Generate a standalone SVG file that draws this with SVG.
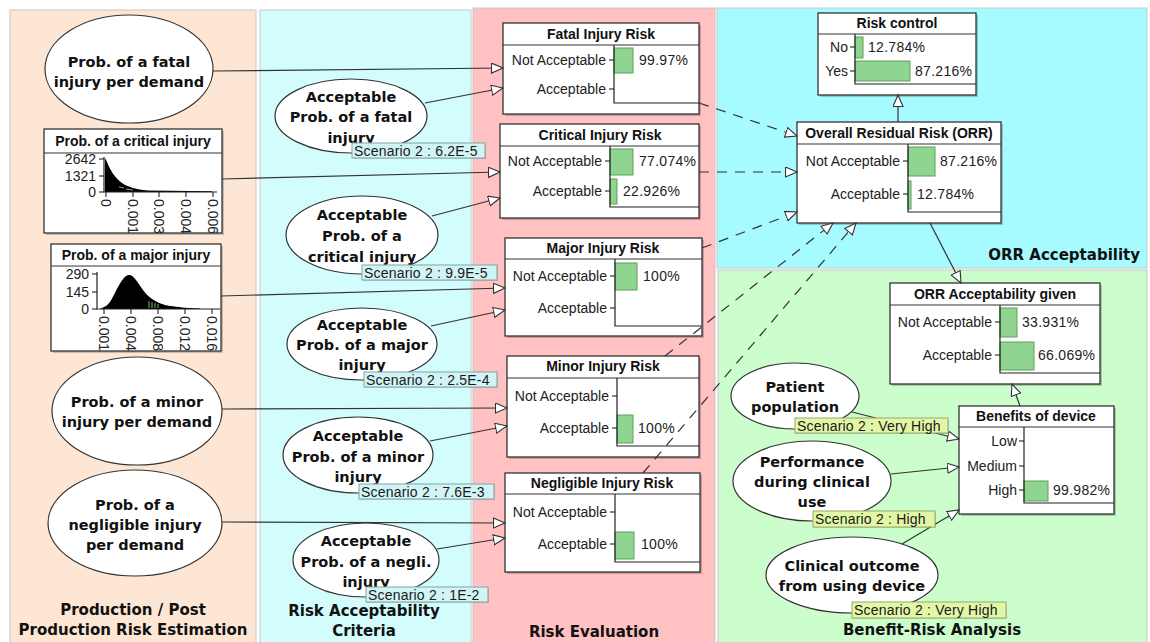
<svg xmlns="http://www.w3.org/2000/svg" width="1150" height="642" viewBox="0 0 1150 642">
<defs>
<style>
.panel{stroke:#c8c8c8;stroke-width:1}
.box{fill:#fff;stroke:#333;stroke-width:1.3}
.shadow{fill:#000;opacity:.2}
.sep{stroke:#333;stroke-width:1.2}
.axis{fill:none;stroke:#222;stroke-width:1.2}
.tick{stroke:#222;stroke-width:1.1}
.bar{fill:#8fd58f;stroke:#5f9f5f;stroke-width:1}
.ttl{font-family:"Liberation Sans",Arial,sans-serif;font-weight:bold;font-size:14px;text-anchor:middle;dominant-baseline:central;fill:#111}
.row{font-family:"Liberation Sans",Arial,sans-serif;font-size:14px;text-anchor:end;dominant-baseline:central;fill:#222}
.pct{font-family:"Liberation Sans",Arial,sans-serif;font-size:14px;dominant-baseline:central;fill:#222;letter-spacing:.3px}
.ax{font-family:"Liberation Sans",Arial,sans-serif;font-size:14px;dominant-baseline:central;fill:#222}
.ell{fill:#fff;stroke:#333;stroke-width:1.2}
.et{font-family:"DejaVu Sans",Verdana,sans-serif;font-weight:bold;font-size:14.5px;text-anchor:middle;dominant-baseline:central;fill:#111}
.plab{font-family:"DejaVu Sans",Verdana,sans-serif;font-weight:bold;font-size:15px;text-anchor:middle;dominant-baseline:central;fill:#111}
.edge{fill:none;stroke:#333;stroke-width:1.2;marker-end:url(#tri)}
.dash{stroke-dasharray:10 8}
.lc{fill:#d2f4f4;stroke:#7fa5a5;stroke-width:1}
.lg{fill:#e2f7a6;stroke:#98a86c;stroke-width:1}
.lsh{fill:#000;opacity:.15}
.lt{font-family:"Liberation Sans",Arial,sans-serif;font-size:14px;dominant-baseline:central;fill:#1a1a1a;letter-spacing:.2px}
</style>
<marker id="tri" markerWidth="14" markerHeight="12" refX="12" refY="5.5" orient="auto" markerUnits="userSpaceOnUse">
<path d="M0.5,0.5 L12,5.5 L0.5,10.5 Z" fill="#fff" stroke="#333" stroke-width="1.1"/>
</marker>
<clipPath id="clipCrit"><rect x="44" y="153" width="178" height="80"/></clipPath>
<clipPath id="clipMaj"><rect x="51" y="266" width="170" height="85"/></clipPath>
</defs>

<rect width="1150" height="642" fill="#fff"/>

<!-- background panels -->
<g id="panels">
<rect class="panel" x="10" y="10" width="246" height="640" fill="#fde7d4"/>
<rect class="panel" x="260" y="10" width="211" height="640" fill="#d3fcfc"/>
<rect class="panel" x="473" y="8" width="242" height="640" fill="#ffc1c1"/>
<rect class="panel" x="717" y="8" width="430" height="260" fill="#a5fbff"/>
<rect class="panel" x="718" y="270" width="429" height="380" fill="#ccfdcc"/>
<text class="plab" x="133" y="610">Production / Post</text>
<text class="plab" x="133" y="630">Production Risk Estimation</text>
<text class="plab" x="364" y="611">Risk Acceptability</text>
<text class="plab" x="364" y="631">Criteria</text>
<text class="plab" x="594" y="632">Risk Evaluation</text>
<text class="plab" x="1140" y="255" style="text-anchor:end">ORR Acceptability</text>
<text class="plab" x="932" y="630">Benefit-Risk Analysis</text>
</g>

<!-- probability estimates -->
<g id="prob-fatal">
<ellipse class="ell" cx="129" cy="69" rx="84" ry="54"/>
<text class="et" x="129" y="62">Prob. of a fatal</text>
<text class="et" x="129" y="82">injury per demand</text>
</g>

<g id="prob-critical">
<rect class="shadow" x="46" y="131" width="178" height="104"/>
<rect class="box" x="44" y="129" width="178" height="104"/>
<line class="sep" x1="44" y1="153" x2="222" y2="153"/>
<text class="ttl" x="133" y="141">Prob. of a critical injury</text>
<g clip-path="url(#clipCrit)">
<path d="M105,192 L105,158 L107,162 C110,170 115,178 122,183 C128,187 136,189.5 148,190.6 L212,191.2 L212,192 Z" fill="#000"/>
<path d="M119,187 L124,188 M126,189 L133,190" stroke="#6bbf6b" stroke-width="1" fill="none"/>
<polyline class="axis" points="104,157 104,192 217,192"/>
<line class="tick" x1="99" y1="159" x2="104" y2="159"/>
<line class="tick" x1="99" y1="176" x2="104" y2="176"/>
<line class="tick" x1="99" y1="192" x2="104" y2="192"/>
<text class="ax" x="96" y="159" text-anchor="end">2642</text>
<text class="ax" x="96" y="176" text-anchor="end">1321</text>
<text class="ax" x="96" y="192" text-anchor="end">0</text>
<line class="tick" x1="106" y1="192" x2="106" y2="197"/>
<line class="tick" x1="133" y1="192" x2="133" y2="197"/>
<line class="tick" x1="159" y1="192" x2="159" y2="197"/>
<line class="tick" x1="186" y1="192" x2="186" y2="197"/>
<line class="tick" x1="213" y1="192" x2="213" y2="197"/>
<text class="ax" transform="translate(106,199) rotate(90)">0</text>
<text class="ax" transform="translate(133,199) rotate(90)">0.001</text>
<text class="ax" transform="translate(159,199) rotate(90)">0.003</text>
<text class="ax" transform="translate(186,199) rotate(90)">0.004</text>
<text class="ax" transform="translate(213,199) rotate(90)">0.006</text>
</g>
</g>

<g id="prob-major">
<rect class="shadow" x="53" y="246" width="170" height="107"/>
<rect class="box" x="51" y="244" width="170" height="107"/>
<line class="sep" x1="51" y1="266" x2="221" y2="266"/>
<text class="ttl" x="136" y="255">Prob. of a major injury</text>
<g clip-path="url(#clipMaj)">
<path d="M100,309 L104,307 C110,305 113,296 118,287 C122,280 125,275 129,275 C134,275 138,283 143,290 C148,297 155,302 165,305 C175,307 185,308 200,308.5 L200,309 Z" fill="#000"/>
<path d="M149,301 L149,308 M152,302 L152,308 M155,303 L155,308 M158,304 L158,308" stroke="#6bbf6b" stroke-width="1" fill="none"/>
<polyline class="axis" points="97,272 97,309 220,309"/>
<line class="tick" x1="92" y1="274" x2="97" y2="274"/>
<line class="tick" x1="92" y1="292" x2="97" y2="292"/>
<line class="tick" x1="92" y1="309" x2="97" y2="309"/>
<text class="ax" x="89" y="274" text-anchor="end">290</text>
<text class="ax" x="89" y="292" text-anchor="end">145</text>
<text class="ax" x="89" y="309" text-anchor="end">0</text>
<line class="tick" x1="104" y1="309" x2="104" y2="314"/>
<line class="tick" x1="131" y1="309" x2="131" y2="314"/>
<line class="tick" x1="158" y1="309" x2="158" y2="314"/>
<line class="tick" x1="185" y1="309" x2="185" y2="314"/>
<line class="tick" x1="212" y1="309" x2="212" y2="314"/>
<text class="ax" transform="translate(104,316) rotate(90)">0.001</text>
<text class="ax" transform="translate(131,316) rotate(90)">0.004</text>
<text class="ax" transform="translate(158,316) rotate(90)">0.008</text>
<text class="ax" transform="translate(185,316) rotate(90)">0.012</text>
<text class="ax" transform="translate(212,316) rotate(90)">0.016</text>
</g>
</g>

<g id="prob-minor">
<ellipse class="ell" cx="137" cy="411" rx="85" ry="54"/>
<text class="et" x="137" y="402">Prob. of a minor</text>
<text class="et" x="137" y="422">injury per demand</text>
</g>

<g id="prob-negligible">
<ellipse class="ell" cx="135" cy="523" rx="87" ry="53"/>
<text class="et" x="135" y="505">Prob. of a</text>
<text class="et" x="135" y="525">negligible injury</text>
<text class="et" x="135" y="545">per demand</text>
</g>

<!-- acceptability criteria -->
<g id="acc-fatal">
<ellipse class="ell" cx="351" cy="116" rx="76" ry="37"/>
<text class="et" x="351" y="97">Acceptable</text>
<text class="et" x="351" y="117">Prob. of a fatal</text>
<text class="et" x="351" y="138">injury</text>
</g>
<g id="acc-critical">
<ellipse class="ell" cx="362" cy="235" rx="76" ry="39"/>
<text class="et" x="362" y="215">Acceptable</text>
<text class="et" x="362" y="236">Prob. of a</text>
<text class="et" x="362" y="257">critical injury</text>
</g>
<g id="acc-major">
<ellipse class="ell" cx="362" cy="344" rx="75" ry="36"/>
<text class="et" x="362" y="325">Acceptable</text>
<text class="et" x="362" y="345">Prob. of a major</text>
<text class="et" x="362" y="365">injury</text>
</g>
<g id="acc-minor">
<ellipse class="ell" cx="358" cy="455" rx="75" ry="38"/>
<text class="et" x="358" y="436">Acceptable</text>
<text class="et" x="358" y="457">Prob. of a minor</text>
<text class="et" x="358" y="477">injury</text>
</g>
<g id="acc-negligible">
<ellipse class="ell" cx="366" cy="560" rx="73" ry="37"/>
<text class="et" x="366" y="541">Acceptable</text>
<text class="et" x="366" y="562">Prob. of a negli.</text>
<text class="et" x="366" y="582">injury</text>
</g>

<!-- risk evaluation nodes -->
<g id="fatal-risk">
<rect class="shadow" x="505" y="25" width="196" height="91"/>
<rect class="box" x="503" y="23" width="196" height="91"/>
<line class="sep" x1="503" y1="45" x2="699" y2="45"/>
<text class="ttl" x="601" y="34">Fatal Injury Risk</text>
<rect class="bar" x="614" y="48" width="19" height="25"/>
<polyline class="axis" points="614,45 614,103 699,103"/>
<line class="tick" x1="609" y1="60" x2="614" y2="60"/>
<line class="tick" x1="609" y1="89" x2="614" y2="89"/>
<text class="row" x="606" y="60">Not Acceptable</text>
<text class="row" x="606" y="89">Acceptable</text>
<text class="pct" x="639" y="60">99.97%</text>
</g>

<g id="critical-risk">
<rect class="shadow" x="502" y="126" width="199" height="94"/>
<rect class="box" x="500" y="124" width="199" height="94"/>
<line class="sep" x1="500" y1="146" x2="699" y2="146"/>
<text class="ttl" x="600" y="135">Critical Injury Risk</text>
<rect class="bar" x="610" y="149" width="23" height="26"/>
<rect class="bar" x="610" y="179" width="7" height="25"/>
<polyline class="axis" points="610,146 610,207 699,207"/>
<line class="tick" x1="605" y1="161" x2="610" y2="161"/>
<line class="tick" x1="605" y1="191" x2="610" y2="191"/>
<text class="row" x="602" y="161">Not Acceptable</text>
<text class="row" x="602" y="191">Acceptable</text>
<text class="pct" x="639" y="161">77.074%</text>
<text class="pct" x="623" y="191">22.926%</text>
</g>

<g id="major-risk">
<rect class="shadow" x="507" y="240" width="197" height="98"/>
<rect class="box" x="505" y="238" width="197" height="98"/>
<line class="sep" x1="505" y1="259" x2="702" y2="259"/>
<text class="ttl" x="603" y="248">Major Injury Risk</text>
<rect class="bar" x="615" y="263" width="22" height="27"/>
<polyline class="axis" points="615,259 615,326 702,326"/>
<line class="tick" x1="610" y1="276" x2="615" y2="276"/>
<line class="tick" x1="610" y1="308" x2="615" y2="308"/>
<text class="row" x="607" y="276">Not Acceptable</text>
<text class="row" x="607" y="308">Acceptable</text>
<text class="pct" x="643" y="276">100%</text>
</g>

<g id="minor-risk">
<rect class="shadow" x="509" y="358" width="192" height="101"/>
<rect class="box" x="507" y="356" width="192" height="101"/>
<line class="sep" x1="507" y1="378" x2="699" y2="378"/>
<text class="ttl" x="603" y="366">Minor Injury Risk</text>
<rect class="bar" x="617" y="415" width="16" height="28"/>
<polyline class="axis" points="617,378 617,446 699,446"/>
<line class="tick" x1="612" y1="396" x2="617" y2="396"/>
<line class="tick" x1="612" y1="428" x2="617" y2="428"/>
<text class="row" x="609" y="396">Not Acceptable</text>
<text class="row" x="609" y="428">Acceptable</text>
<text class="pct" x="638" y="428">100%</text>
</g>

<g id="negligible-risk">
<rect class="shadow" x="507" y="475" width="195" height="99"/>
<rect class="box" x="505" y="473" width="195" height="99"/>
<line class="sep" x1="505" y1="494" x2="700" y2="494"/>
<text class="ttl" x="602" y="483">Negligible Injury Risk</text>
<rect class="bar" x="615" y="532" width="19" height="27"/>
<polyline class="axis" points="615,494 615,562 700,562"/>
<line class="tick" x1="610" y1="512" x2="615" y2="512"/>
<line class="tick" x1="610" y1="544" x2="615" y2="544"/>
<text class="row" x="607" y="512">Not Acceptable</text>
<text class="row" x="607" y="544">Acceptable</text>
<text class="pct" x="641" y="544">100%</text>
</g>

<!-- overall residual risk -->
<g id="risk-control">
<rect class="shadow" x="820" y="15" width="158" height="82"/>
<rect class="box" x="818" y="13" width="158" height="82"/>
<line class="sep" x1="818" y1="34" x2="976" y2="34"/>
<text class="ttl" x="897" y="23">Risk control</text>
<rect class="bar" x="855" y="37" width="8" height="21"/>
<rect class="bar" x="855" y="61" width="55" height="20"/>
<polyline class="axis" points="855,34 855,84 976,84"/>
<line class="tick" x1="850" y1="47" x2="855" y2="47"/>
<line class="tick" x1="850" y1="71" x2="855" y2="71"/>
<text class="row" x="848" y="47">No</text>
<text class="row" x="848" y="71">Yes</text>
<text class="pct" x="868" y="47">12.784%</text>
<text class="pct" x="915" y="71">87.216%</text>
</g>

<g id="orr">
<rect class="shadow" x="799" y="124" width="204" height="101"/>
<rect class="box" x="797" y="122" width="204" height="101"/>
<line class="sep" x1="797" y1="144" x2="1001" y2="144"/>
<text class="ttl" x="899" y="133">Overall Residual Risk (ORR)</text>
<rect class="bar" x="908" y="147" width="27" height="29"/>
<rect class="bar" x="908" y="181" width="3" height="28"/>
<polyline class="axis" points="908,144 908,212 1001,212"/>
<line class="tick" x1="903" y1="161" x2="908" y2="161"/>
<line class="tick" x1="903" y1="194" x2="908" y2="194"/>
<text class="row" x="900" y="161">Not Acceptable</text>
<text class="row" x="900" y="194">Acceptable</text>
<text class="pct" x="940" y="161">87.216%</text>
<text class="pct" x="917" y="194">12.784%</text>
</g>

<!-- benefit-risk analysis -->
<g id="orr-given">
<rect class="shadow" x="892" y="285" width="210" height="101"/>
<rect class="box" x="890" y="283" width="210" height="101"/>
<line class="sep" x1="890" y1="305" x2="1100" y2="305"/>
<text class="ttl" x="995" y="294">ORR Acceptability given</text>
<rect class="bar" x="1000" y="308" width="17" height="29"/>
<rect class="bar" x="1000" y="342" width="34" height="28"/>
<polyline class="axis" points="1000,305 1000,373 1100,373"/>
<line class="tick" x1="995" y1="322" x2="1000" y2="322"/>
<line class="tick" x1="995" y1="355" x2="1000" y2="355"/>
<text class="row" x="992" y="322">Not Acceptable</text>
<text class="row" x="992" y="355">Acceptable</text>
<text class="pct" x="1022" y="322">33.931%</text>
<text class="pct" x="1038" y="355">66.069%</text>
</g>

<g id="benefits">
<rect class="shadow" x="961" y="408" width="155" height="108"/>
<rect class="box" x="959" y="406" width="155" height="108"/>
<line class="sep" x1="959" y1="427" x2="1114" y2="427"/>
<text class="ttl" x="1036" y="416">Benefits of device</text>
<rect class="bar" x="1024" y="481" width="24" height="20"/>
<polyline class="axis" points="1024,427 1024,503 1114,503"/>
<line class="tick" x1="1019" y1="441" x2="1024" y2="441"/>
<line class="tick" x1="1019" y1="466" x2="1024" y2="466"/>
<line class="tick" x1="1019" y1="490" x2="1024" y2="490"/>
<text class="row" x="1017" y="441">Low</text>
<text class="row" x="1017" y="466">Medium</text>
<text class="row" x="1017" y="490">High</text>
<text class="pct" x="1053" y="490">99.982%</text>
</g>

<g id="patient-population">
<ellipse class="ell" cx="795" cy="396" rx="64" ry="33"/>
<text class="et" x="795" y="387">Patient</text>
<text class="et" x="795" y="407">population</text>
</g>
<g id="performance">
<ellipse class="ell" cx="812" cy="481" rx="79" ry="40"/>
<text class="et" x="812" y="462">Performance</text>
<text class="et" x="812" y="482">during clinical</text>
<text class="et" x="812" y="502">use</text>
</g>
<g id="clinical-outcome">
<ellipse class="ell" cx="852" cy="575" rx="86" ry="38"/>
<text class="et" x="852" y="566">Clinical outcome</text>
<text class="et" x="852" y="586">from using device</text>
</g>

<!-- connectors -->
<g id="connectors">
<path class="edge" d="M213,71 L503,68"/>
<path class="edge" d="M425,103 L503,88"/>
<path class="edge" d="M222,179 L500,172"/>
<path class="edge" d="M432,216 L500,198"/>
<path class="edge" d="M221,296 L505,288"/>
<path class="edge" d="M431,326 L505,310"/>
<path class="edge" d="M222,409 L507,408"/>
<path class="edge" d="M430,441 L507,426"/>
<path class="edge" d="M222,522 L505,523"/>
<path class="edge" d="M437,549 L505,538"/>
<path class="edge" d="M898,122 L898,95"/>
<path class="edge" d="M930,223 L961,283"/>
<path class="edge" d="M1020,406 L1012,384"/>
<path class="edge" d="M852,412 L959,439"/>
<path class="edge" d="M891,474 L959,467"/>
<path class="edge" d="M902,544 L959,510"/>
<path class="edge dash" d="M699,103 L797,136"/>
<path class="edge dash" d="M699,172 L797,172"/>
<path class="edge dash" d="M702,248 L797,212"/>
<path class="edge dash" d="M665,356 L833,223"/>
<path class="edge dash" d="M643,473 L856,223"/>
</g>

<!-- scenario evidence labels -->
<g id="scenario-labels">
<rect class="lsh" x="353" y="144" width="133" height="15"/>
<rect class="lc" x="352" y="143" width="133" height="15"/>
<text class="lt" x="354" y="151">Scenario 2 : 6.2E-5</text>
<rect class="lsh" x="363" y="266" width="135" height="15"/>
<rect class="lc" x="362" y="265" width="135" height="15"/>
<text class="lt" x="364" y="273">Scenario 2 : 9.9E-5</text>
<rect class="lsh" x="365" y="373" width="133" height="15"/>
<rect class="lc" x="364" y="372" width="133" height="15"/>
<text class="lt" x="366" y="380">Scenario 2 : 2.5E-4</text>
<rect class="lsh" x="360" y="485" width="135" height="15"/>
<rect class="lc" x="359" y="484" width="135" height="15"/>
<text class="lt" x="361" y="492">Scenario 2 : 7.6E-3</text>
<rect class="lsh" x="367" y="588" width="122" height="15"/>
<rect class="lc" x="366" y="587" width="122" height="15"/>
<text class="lt" x="368" y="595">Scenario 2 : 1E-2</text>
<rect class="lsh" x="796" y="419" width="153" height="15"/>
<rect class="lg" x="795" y="418" width="153" height="15"/>
<text class="lt" x="797" y="426">Scenario 2 : Very High</text>
<rect class="lsh" x="814" y="512" width="122" height="16"/>
<rect class="lg" x="813" y="511" width="122" height="16"/>
<text class="lt" x="815" y="519">Scenario 2 : High</text>
<rect class="lsh" x="853" y="603" width="154" height="16"/>
<rect class="lg" x="852" y="602" width="154" height="16"/>
<text class="lt" x="854" y="610">Scenario 2 : Very High</text>
</g>
</svg>
